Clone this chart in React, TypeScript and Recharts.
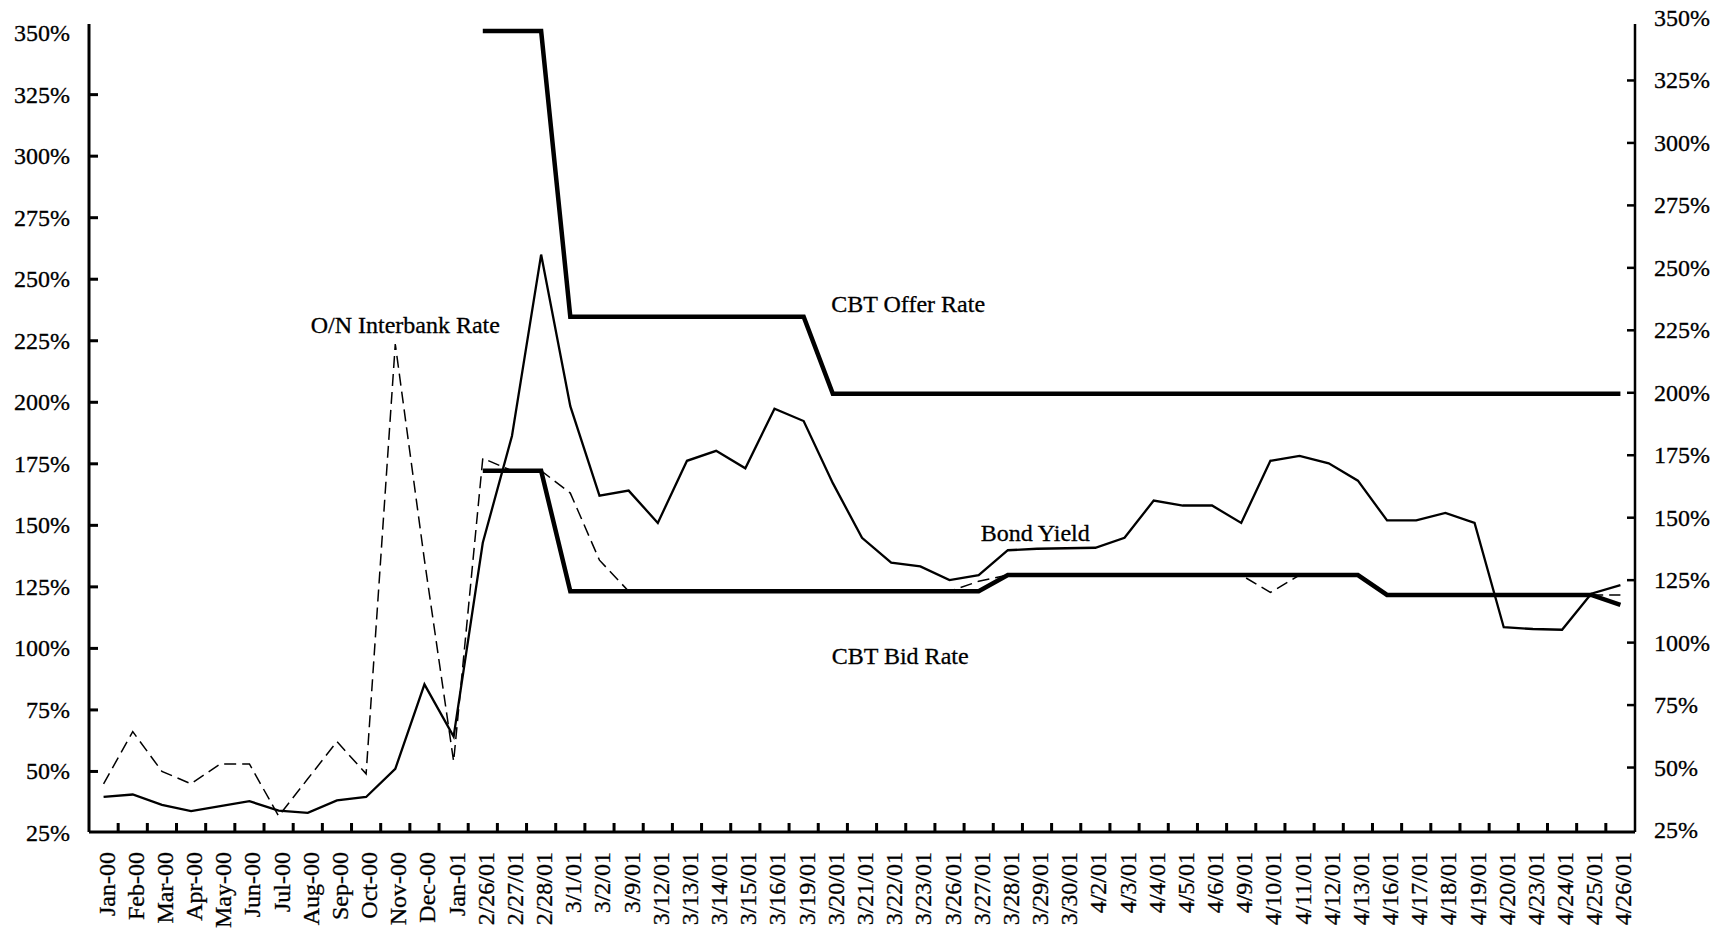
import { LineChart, Line, XAxis, YAxis } from "recharts";
import { ReferenceDot } from "recharts";

const FONT = '"Liberation Serif", "Times New Roman", serif';
const W = 1725;
const H = 937;
const LEFT_W = 89;
const RIGHT_W = 90;
const TOP = 24;
const X_AXIS_H = 105;
const X_TICK_MARGIN = 20;
const Y_TICK_MARGIN = 19;

const dates = [
  "Jan-00", "Feb-00", "Mar-00", "Apr-00", "May-00", "Jun-00", "Jul-00", "Aug-00",
  "Sep-00", "Oct-00", "Nov-00", "Dec-00", "Jan-01", "2/26/01", "2/27/01", "2/28/01",
  "3/1/01", "3/2/01", "3/9/01", "3/12/01", "3/13/01", "3/14/01", "3/15/01", "3/16/01",
  "3/19/01", "3/20/01", "3/21/01", "3/22/01", "3/23/01", "3/26/01", "3/27/01", "3/28/01",
  "3/29/01", "3/30/01", "4/2/01", "4/3/01", "4/4/01", "4/5/01", "4/6/01", "4/9/01",
  "4/10/01", "4/11/01", "4/12/01", "4/13/01", "4/16/01", "4/17/01", "4/18/01", "4/19/01",
  "4/20/01", "4/23/01", "4/24/01", "4/25/01", "4/26/01",
];

const bondYield = [
  38.7, 39.7, 35.5, 33, 35, 37, 33.2, 32.3, 37.3, 38.7, 50, 84, 63,
  141, 184, 257,
  196, 160, 162, 149, 174, 178, 171, 195, 190, 165, 143, 133, 131.5, 126, 128,
  138, 138.6, 138.8, 139, 143, 158, 156, 156, 149, 174, 176, 173, 166,
  150, 150, 153, 149, 107, 106.3, 106, 120.5, 124,
];

const interbankRate = [
  44, 65, 49, 44, 52, 52, 31, 46, 61, 48, 221, 134, 53,
  175, 170, 170, 161, 134,
  121.5, 121.5, 121.5, 121.5, 121.5, 121.5, 121.5, 121.5, 121.5, 121.5, 121.5, 121.5,
  125.5,
  128, 128, 128, 128, 128, 128, 128, 128, 128,
  121,
  128, 128, 128,
  120, 120, 120, 120, 120, 120, 120, 120, 120,
];

const offerRate = [
  null, null, null, null, null, null, null, null, null, null, null, null, null,
  347, 347, 347,
  232, 232, 232, 232, 232, 232, 232, 232, 232,
  201, 201, 201, 201, 201, 201, 201, 201, 201, 201, 201, 201, 201, 201,
  201, 201, 201, 201, 201, 201, 201, 201, 201, 201, 201, 201, 201, 201,
];

const bidRate = [
  null, null, null, null, null, null, null, null, null, null, null, null, null,
  170, 170, 170,
  121.5, 121.5, 121.5, 121.5, 121.5, 121.5, 121.5, 121.5, 121.5, 121.5, 121.5, 121.5, 121.5, 121.5, 121.5,
  128, 128, 128, 128, 128, 128, 128, 128, 128, 128, 128, 128, 128,
  120, 120, 120, 120, 120, 120, 120, 120,
  116,
];

const yTicks = [25, 50, 75, 100, 125, 150, 175, 200, 225, 250, 275, 300, 325, 350];

// the scanned original is slightly skewed: left and right scales don't line up exactly
const dataDomain = [24.6, 349.8];
const leftDomain = [25.4, 353.7];
const rightDomain = [24.2, 347.6];

const annotations = [
  { text: "O/N Interbank Rate", date: "Nov-00", value: 228.6, dx: 10 },
  { text: "CBT Offer Rate", date: "3/22/01", value: 237, dx: 17 },
  { text: "Bond Yield", date: "3/30/01", value: 144.8, dx: -31 },
  { text: "CBT Bid Rate", date: "3/22/01", value: 95.6, dx: 9 },
];

const data = dates.map((date, i) => ({
  date,
  bond: bondYield[i],
  interbank: interbankRate[i],
  offer: offerRate[i],
  bid: bidRate[i],
}));

const plotW = W - LEFT_W - RIGHT_W;
const band = plotW / dates.length;

function XTick(props: any) {
  const x = Number(props.x);
  const y = Number(props.y);
  const { payload } = props;
  const idx = dates.indexOf(payload.value);
  const axisY = y - X_TICK_MARGIN;
  const tx = x + band / 2;
  return (
    <g>
      {idx < dates.length - 1 && (
        <rect x={tx - 1.5} y={axisY - 9} width={3} height={9} fill="#000" />
      )}
      <text
        transform={`translate(${x + 3},${y}) rotate(-90)`}
        textAnchor="end"
        dominantBaseline="central"
        fontFamily={FONT}
        fontSize={24}
        fill="#000"
        stroke="#000"
        strokeWidth={0.3}
      >
        {payload.value}
      </text>
    </g>
  );
}

function LeftTick(props: any) {
  const x = Number(props.x);
  const y = Number(props.y);
  const { payload } = props;
  const axisX = x + Y_TICK_MARGIN;
  const edge = payload.value === 25 || payload.value === 350;
  return (
    <g>
      {!edge && <rect x={axisX} y={y - 1.5} width={9} height={3} fill="#000" />}
      <text x={x} y={y} textAnchor="end" dominantBaseline="central" fontFamily={FONT} fontSize={24}
        fill="#000" stroke="#000" strokeWidth={0.3}>
        {payload.value}%
      </text>
    </g>
  );
}

function RightTick(props: any) {
  const x = Number(props.x);
  const y = Number(props.y);
  const { payload } = props;
  const axisX = x - Y_TICK_MARGIN;
  const edge = payload.value === 25 || payload.value === 350;
  return (
    <g>
      {!edge && <rect x={axisX - 8} y={y - 1.25} width={8} height={2.5} fill="#000" />}
      <text x={x} y={y} textAnchor="start" dominantBaseline="central" fontFamily={FONT} fontSize={24}
        fill="#000" stroke="#000" strokeWidth={0.3}>
        {payload.value}%
      </text>
    </g>
  );
}

const annoShape = (text: string, dx: number) => (props: any) => (
  <text
    x={Number(props.cx) + dx}
    y={Number(props.cy)}
    textAnchor="middle"
    dominantBaseline="central"
    fontFamily={FONT}
    fontSize={24}
    fill="#000"
    stroke="#000"
    strokeWidth={0.3}
  >
    {text}
  </text>
);

export default function App() {
  return (
    <div style={{ position: "absolute", left: 0, top: 0, background: "#fff" }}>
      <LineChart
        width={W}
        height={H}
        data={data}
        margin={{ top: TOP, right: 0, bottom: 0, left: 0 }}
      >
        <XAxis
          dataKey="date"
          scale="band"
          interval={0}
          height={X_AXIS_H}
          tickSize={0}
          tickMargin={X_TICK_MARGIN}
          tickLine={false}
          axisLine={{ stroke: "#000", strokeWidth: 3 }}
          tick={<XTick />}
        />
        {/* top frame line */}
        <XAxis
          xAxisId="top"
          orientation="top"
          dataKey="date"
          scale="band"
          height={0}
          tick={false}
          tickLine={false}
          axisLine={{ stroke: "#000", strokeWidth: 2 }}
        />
        <YAxis yAxisId="data" hide width={0} domain={dataDomain} type="number" allowDataOverflow />
        <YAxis
          yAxisId="left"
          orientation="left"
          width={LEFT_W}
          domain={leftDomain}
          ticks={yTicks}
          type="number"
          interval={0}
          allowDataOverflow
          tickSize={0}
          tickMargin={Y_TICK_MARGIN}
          tickLine={false}
          axisLine={{ stroke: "#000", strokeWidth: 3 }}
          tick={<LeftTick />}
        />
        <YAxis
          yAxisId="right"
          orientation="right"
          width={RIGHT_W}
          domain={rightDomain}
          ticks={yTicks}
          type="number"
          interval={0}
          allowDataOverflow
          tickSize={0}
          tickMargin={Y_TICK_MARGIN}
          tickLine={false}
          axisLine={{ stroke: "#000", strokeWidth: 2.5 }}
          tick={<RightTick />}
        />

        <Line
          yAxisId="data"
          dataKey="interbank"
          stroke="#000"
          strokeWidth={1.5}
          strokeDasharray="12 6"
          dot={false}
          isAnimationActive={false}
        />
        <Line
          yAxisId="data"
          dataKey="bond"
          stroke="#000"
          strokeWidth={2.3}
          dot={false}
          isAnimationActive={false}
        />
        <Line
          yAxisId="data"
          dataKey="bid"
          stroke="#000"
          strokeWidth={4.5}
          dot={false}
          isAnimationActive={false}
        />
        <Line
          yAxisId="data"
          dataKey="offer"
          stroke="#000"
          strokeWidth={4.5}
          dot={false}
          isAnimationActive={false}
        />

        {annotations.map((a) => (
          <ReferenceDot
            key={a.text}
            yAxisId="data"
            x={a.date}
            y={a.value}
            r={0}
            shape={annoShape(a.text, a.dx)}
          />
        ))}
      </LineChart>
    </div>
  );
}
